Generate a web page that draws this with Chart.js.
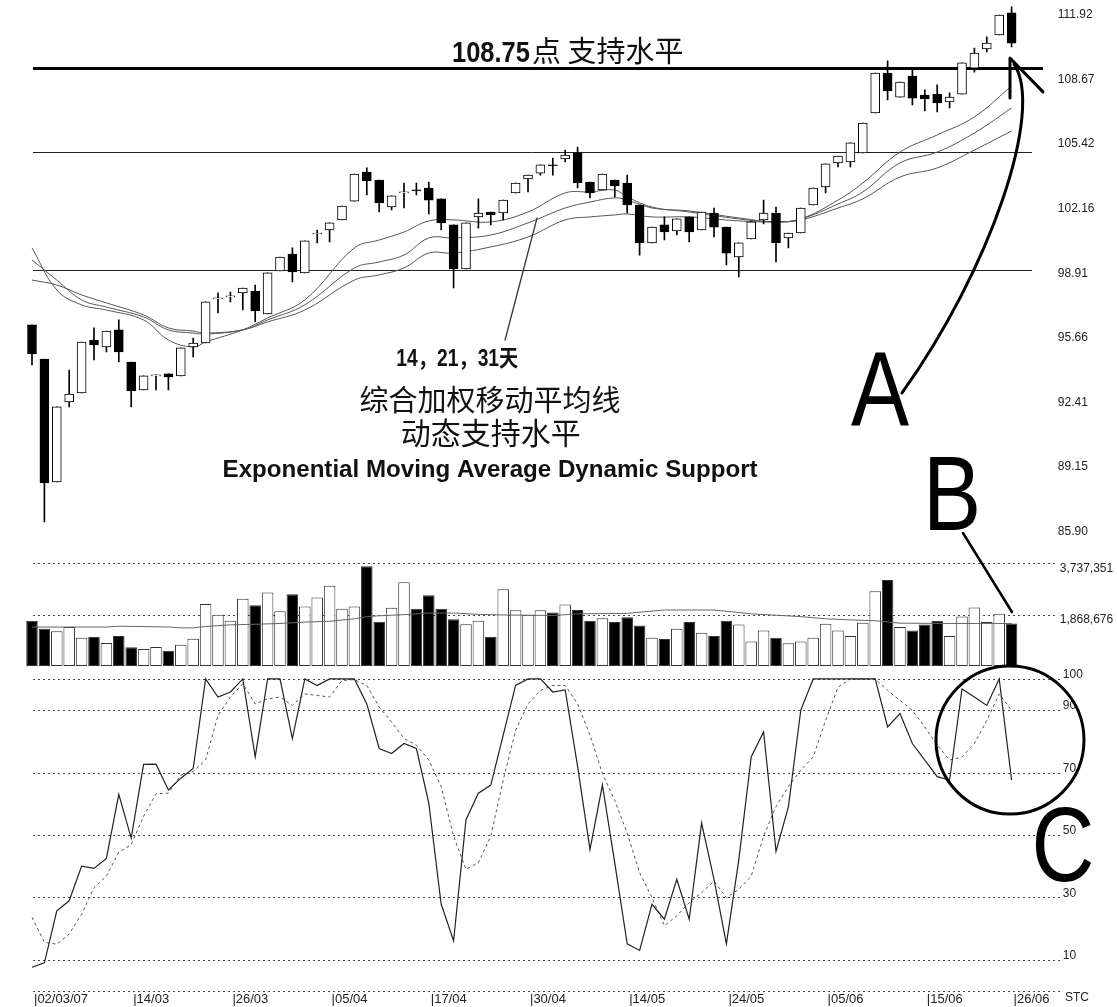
<!DOCTYPE html>
<html>
<head>
<meta charset="utf-8">
<script src="https://cdn.jsdelivr.net/npm/chart.js@4.4.0/dist/chart.umd.min.js"></script>
<style>
html, body { margin: 0; padding: 0; background: #fff; }
#wrap { position: relative; width: 1117px; height: 1007px; }
#wrap canvas { position: absolute; left: 0; top: 0; }
</style>
</head>
<body>
<div id="wrap">
  <canvas id="priceChart" width="1117" height="1007"></canvas>
  <canvas id="volChart" width="1117" height="1007"></canvas>
  <canvas id="stcChart" width="1117" height="1007"></canvas>
</div>
<script>
// ---- data ----
const tickAt = [0, 8, 16, 24, 32, 40, 48, 56, 64, 72, 79];
const tickText = ['|02/03/07', '|14/03', '|26/03', '|05/04', '|17/04', '|30/04', '|14/05', '|24/05', '|05/06', '|15/06', '|26/06'];

const opens = [96.31, 94.59, 88.40, 92.43, 92.88, 95.55, 95.20, 96.06, 94.44, 93.03,
  93.74, 93.84, 93.74, 95.20, 95.40, 97.62, 97.72, 97.92, 98.02, 96.86,
  99.03, 99.88, 98.93, 100.89, 101.09, 101.60, 102.55, 104.01, 103.61, 102.25,
  102.96, 103.11, 103.21, 102.66, 101.35, 99.13, 101.75, 102.00, 101.95, 102.96,
  103.66, 103.96, 104.37, 104.67, 104.97, 103.51, 103.11, 103.61, 103.46, 102.35,
  100.44, 101.35, 101.04, 101.75, 101.09, 101.95, 101.24, 99.73, 100.64, 101.60,
  101.95, 100.69, 100.94, 102.35, 103.26, 104.47, 104.52, 104.97, 106.99, 109.00,
  107.79, 108.85, 107.89, 107.94, 107.54, 107.94, 109.25, 110.21, 110.92, 112.03];
const highs = [96.31, 94.59, 92.18, 94.04, 95.45, 96.16, 96.00, 96.56, 94.44, 93.74,
  93.79, 93.84, 95.15, 95.65, 97.47, 97.92, 97.97, 98.17, 98.32, 98.93,
  99.73, 100.19, 100.54, 101.09, 101.45, 102.30, 103.91, 104.22, 103.61, 102.81,
  103.46, 103.46, 103.51, 102.66, 101.35, 101.45, 102.66, 102.00, 102.60, 103.46,
  103.86, 104.37, 104.72, 105.12, 105.27, 103.51, 103.91, 103.61, 103.86, 102.35,
  101.24, 101.75, 101.65, 101.75, 102.00, 102.20, 101.24, 100.44, 101.50, 102.60,
  102.25, 100.94, 102.20, 103.21, 104.42, 104.82, 105.48, 106.48, 109.00, 109.61,
  108.55, 109.15, 108.15, 108.40, 108.00, 109.51, 110.26, 110.82, 111.92, 112.33];
const lows = [94.29, 86.38, 88.40, 92.18, 92.88, 94.54, 94.95, 94.44, 92.18, 93.03,
  93.03, 93.03, 93.74, 94.70, 95.40, 96.91, 97.47, 97.06, 96.46, 96.86,
  99.03, 98.47, 98.93, 100.44, 100.49, 101.60, 102.55, 102.86, 102.00, 102.10,
  102.20, 102.86, 101.90, 101.09, 98.17, 99.13, 101.19, 101.35, 101.60, 102.96,
  103.01, 103.86, 103.86, 104.52, 103.21, 102.71, 103.11, 102.76, 101.95, 99.83,
  100.44, 100.59, 100.84, 100.49, 101.09, 100.74, 99.33, 98.73, 100.64, 101.40,
  99.48, 100.19, 100.94, 102.35, 102.96, 104.27, 104.27, 104.97, 106.99, 107.64,
  107.79, 107.39, 107.09, 107.04, 107.24, 107.94, 109.05, 110.06, 110.92, 110.31];
const closes = [94.85, 88.35, 92.18, 92.83, 95.45, 95.30, 96.00, 94.95, 92.98, 93.74,
  93.79, 93.69, 95.15, 95.40, 97.47, 97.67, 97.77, 98.17, 97.01, 98.93,
  99.73, 98.98, 100.54, 100.94, 101.45, 102.30, 103.91, 103.56, 102.45, 102.81,
  103.01, 103.06, 102.60, 101.45, 99.13, 101.45, 101.95, 101.85, 102.60, 103.46,
  103.86, 104.37, 104.32, 104.87, 103.46, 102.96, 103.91, 103.31, 102.35, 100.44,
  101.24, 100.99, 101.65, 100.99, 102.00, 101.24, 99.93, 100.44, 101.50, 101.95,
  100.44, 100.94, 102.20, 103.21, 104.42, 104.82, 105.48, 106.48, 109.00, 108.10,
  108.55, 107.74, 107.69, 107.49, 107.79, 109.51, 110.01, 110.51, 111.92, 110.51];

// exponential moving averages, read at these bars
const emaIdx = [0, 2, 4, 6, 9, 11, 13, 14, 17, 19, 22, 26, 28, 30, 32, 34, 37, 40, 43, 45, 47, 48, 50, 53, 57, 60, 62, 65, 67, 70, 73, 76, 79];
const ema14 = [100.19, 98.07, 97.32, 97.06, 96.56, 95.55, 95.20, 95.45, 96.06, 96.66, 97.57, 100.19, 100.59, 100.99, 101.55, 101.60, 101.50, 102.00, 102.96, 103.01, 103.11, 102.76, 102.25, 102.00, 101.65, 101.50, 101.65, 102.60, 103.46, 105.02, 105.88, 106.79, 108.35];
const ema21 = [99.58, 98.57, 97.57, 97.21, 96.71, 96.06, 95.90, 95.85, 96.06, 96.56, 97.32, 99.18, 99.48, 99.83, 100.69, 100.69, 100.84, 101.45, 102.20, 102.50, 102.71, 102.60, 102.20, 102.05, 101.70, 101.50, 101.65, 102.40, 103.01, 104.47, 105.02, 105.98, 107.24];
const ema31 = [98.57, 98.32, 97.82, 97.42, 96.81, 96.16, 96.00, 95.90, 96.06, 96.46, 97.06, 98.57, 98.83, 99.18, 99.93, 99.93, 100.24, 100.74, 101.60, 101.75, 101.85, 101.90, 101.75, 101.75, 101.55, 101.50, 101.60, 102.20, 102.66, 103.76, 104.22, 105.12, 106.08];

const supportLevels = [109.25, 105.02, 99.07];
const priceTicks = [111.92, 108.67, 105.42, 102.16, 98.91, 95.66, 92.41, 89.15, 85.90];

const volumes = [1650000, 1353000, 1263000, 1418000, 1031000, 1070000, 838000, 1095000, 683000, 619000,
  696000, 554000, 773000, 992000, 2255000, 1869000, 1650000, 2449000, 2217000, 2681000,
  1998000, 2616000, 2165000, 2500000, 2925000, 2088000, 2165000, 3634000, 1611000, 2126000,
  3054000, 2088000, 2578000, 2088000, 1701000, 1521000, 1650000, 1070000, 2797000, 2036000,
  1869000, 2036000, 1950000, 2237000, 2040000, 1645000, 1737000, 1606000, 1777000, 1474000,
  1026000, 987000, 1355000, 1606000, 1211000, 1092000, 1645000, 1513000, 895000, 1290000,
  1026000, 829000, 895000, 1026000, 1540000, 1290000, 1092000, 1579000, 2724000, 3132000,
  1421000, 1290000, 1513000, 1645000, 1092000, 1803000, 2132000, 1606000, 1908000, 1553000];
const volMaIdx = [0, 6, 7, 11, 12, 13, 14, 16, 18, 20, 22, 24, 26, 27, 28, 30, 32, 34, 36, 38, 40, 42, 44, 48, 51, 55, 57, 58, 60, 62, 64, 66, 68, 70, 74, 79];
const volMa = [1420000, 1420000, 1450000, 1420000, 1390000, 1390000, 1440000, 1500000, 1520000, 1550000,
  1600000, 1630000, 1720000, 1800000, 1830000, 1870000, 1930000, 1930000, 1880000, 1860000,
  1850000, 1840000, 1900000, 1920000, 2040000, 2040000, 1950000, 1900000, 1850000, 1800000,
  1720000, 1680000, 1650000, 1560000, 1550000, 1550000];
const volTicks = [3737351, 1868676];

const stcK = [7.6, 9.0, 25.7, 28.9, 40, 39.3, 42.5, 63, 49, 72.6,
  72.7, 64.4, 68.2, 71.3, 100, 94.2, 95.8, 100, 75, 100,
  100, 80.9, 100, 97.9, 100, 100, 100, 92, 77.7, 76.1,
  79.3, 77.7, 60.2, 27.8, 16.1, 54.9, 63.4, 66, 82, 97.9,
  100, 100, 95.8, 96.5, 72, 45.3, 66, 41, 15.1, 13,
  27.8, 23, 35.8, 23, 53.8, 35.8, 15.1, 42, 75, 83,
  44.8, 59, 90, 100, 100, 100, 100, 100, 100, 84.6,
  88.9, 79.3, 74, 68.7, 67.6, 96.8, 94.2, 91.5, 100, 67.6];
const stcD = [23.6, 15.6, 15, 18.3, 24.6, 33.1, 36.8, 44.5, 46.9, 56,
  63.2, 63.4, 69.2, 70.3, 74, 88.3, 94.2, 98.4, 92, 93.6,
  94.2, 91.5, 95.2, 94.7, 94.2, 99.5, 99.8, 97.9, 91, 86.2,
  80.9, 78.8, 74, 65.5, 49.6, 39, 41.1, 49.6, 67.6, 83.5,
  92, 96.3, 97.9, 97.9, 92, 82, 69.7, 61, 50.6, 37.9,
  29.9, 20.9, 24.1, 28.3, 31.5, 35.2, 29.9, 32.6, 36.8, 49.6,
  59.1, 65.5, 70.8, 75, 86.7, 97.3, 100, 100, 100, 96.3,
  93.1, 89.9, 84.6, 78.8, 74, 75, 79.3, 86.7, 95.2, 89.9];
const stcGrid = [100, 90, 70, 50, 30, 10, 0];
const stcTicks = [100, 90, 70, 50, 30, 10];

// ---- layout ----
const N = opens.length;
const categories = Array.from({ length: N }, (_, i) => {
  const k = tickAt.indexOf(i);
  return k < 0 ? '' : tickText[k];
});
// sparse readings placed on their bars, gaps bridged by the line
const onBars = (idx, vals) => {
  const out = new Array(N).fill(null);
  idx.forEach((b, k) => { out[b] = vals[k]; });
  return out;
};
const PLOT_L = 25.8, PLOT_R = 1017.8, AXIS_W = 1117 - PLOT_R;
const FONT = "'Liberation Sans', Arial, sans-serif";
const CJK = "'Noto Sans CJK SC', 'Noto Sans CJK JP', sans-serif";
Chart.defaults.font.family = FONT;

const candleFill = opens.map((o, i) => closes[i] < o ? '#000' : '#fff');

const refLines = {
  id: 'refLines',
  beforeDatasetsDraw(chart, args, opts) {
    const ctx = chart.ctx, y = chart.scales.y;
    (opts.lines || []).forEach(l => {
      let py = Math.round(y.getPixelForValue(l.value));
      if (l.width % 2) py += 0.5;
      ctx.save();
      ctx.strokeStyle = l.color || '#000';
      ctx.lineWidth = l.width;
      ctx.setLineDash(l.dash || []);
      ctx.beginPath();
      ctx.moveTo(l.x0, py);
      ctx.lineTo(l.x1, py);
      ctx.stroke();
      ctx.restore();
    });
  }
};

const notes = {
  id: 'notes',
  afterDraw(chart, args, opts) {
    const ctx = chart.ctx, sx = chart.scales.x, sy = chart.scales.y;
    const P = p => [sx.getPixelForValue(p[0]), sy.getPixelForValue(p[1])];
    (opts.items || []).forEach(it => {
      ctx.save();
      ctx.strokeStyle = ctx.fillStyle = it.color || '#000';
      ctx.lineWidth = it.width || 1;
      ctx.lineCap = 'round';
      ctx.lineJoin = 'round';
      if (it.type === 'text') {
        const [x, y] = P(it.at);
        ctx.font = it.font;
        ctx.textAlign = it.align || 'center';
        ctx.textBaseline = it.baseline || 'middle';
        let k = it.squeeze || 1;
        if (it.fit) k = it.fit / ctx.measureText(it.text).width;
        ctx.translate(x, y);
        ctx.scale(k, 1);
        ctx.fillText(it.text, 0, 0);
      } else if (it.type === 'line') {
        ctx.beginPath();
        it.pts.forEach((p, k) => { const q = P(p); k ? ctx.lineTo(q[0], q[1]) : ctx.moveTo(q[0], q[1]); });
        ctx.stroke();
      } else if (it.type === 'curve') {
        const q = it.pts.map(P);
        ctx.beginPath();
        ctx.moveTo(q[0][0], q[0][1]);
        ctx.bezierCurveTo(q[1][0], q[1][1], q[2][0], q[2][1], q[3][0], q[3][1]);
        ctx.stroke();
      } else if (it.type === 'ring') {
        const [x, y] = P(it.at);
        ctx.beginPath();
        ctx.arc(x, y, it.r, 0, Math.PI * 2);
        ctx.stroke();
      }
      ctx.restore();
    });
  }
};

function xAxis(show) {
  return {
    type: 'category', offset: true, display: show,
    grid: { display: false, drawTicks: false }, border: { display: false },
    ticks: { autoSkip: false, maxRotation: 0, minRotation: 0, align: 'start', labelOffset: 2, padding: 1, color: '#222', font: { size: 13 } },
    afterFit: s => { if (show) s.height = 16; s.paddingLeft = 0; s.paddingRight = 0; }
  };
}
function yAxis(min, max, ticks, fmt, pad, offset) {
  return {
    position: 'right', min, max,
    grid: { display: false, drawTicks: false }, border: { display: false },
    afterBuildTicks: s => { s.ticks = ticks.map(v => ({ value: v })); },
    afterFit: s => { s.width = AXIS_W; s.paddingTop = 0; s.paddingBottom = 0; },
    ticks: { callback: fmt, padding: pad, labelOffset: offset || 0, color: '#222', font: { size: 12 } }
  };
}
const base = {
  responsive: false, animation: false, devicePixelRatio: 1, events: [],
};

// ---- price / candles ----
const emaLine = (vals, label) => ({
  type: 'line', label, data: onBars(emaIdx, vals), spanGaps: true,
  borderColor: '#555', borderWidth: 1, pointRadius: 0, tension: 0.4, order: 3
});
new Chart(document.getElementById('priceChart'), {
  type: 'bar',
  data: {
    labels: categories,
    datasets: [
      emaLine(ema14, 'EMA 14'), emaLine(ema21, 'EMA 21'), emaLine(ema31, 'EMA 31'),
      { label: 'range', data: lows.map((l, i) => [l, highs[i]]), backgroundColor: '#000', barThickness: 1, grouped: false, order: 2 },
      { label: 'body', data: opens.map((o, i) => [o, closes[i]]), backgroundColor: candleFill, borderColor: '#000', borderWidth: 1, borderSkipped: false, barThickness: 9, grouped: false, order: 1 }
    ]
  },
  options: {
    ...base,
    layout: { padding: { top: 0, bottom: 459, left: PLOT_L, right: 0 } },
    scales: { x: xAxis(false), y: yAxis(85.07, 112.68, priceTicks, v => v.toFixed(2), 40) },
    plugins: {
      legend: { display: false }, tooltip: { enabled: false },
      refLines: { lines: [
        { value: supportLevels[0], width: 3, x0: 33, x1: 1043 },
        { value: supportLevels[1], width: 1, x0: 33, x1: 1032, color: '#222' },
        { value: supportLevels[2], width: 1, x0: 33, x1: 1032, color: '#222' }
      ] },
      notes: { items: [
        { type: 'text', at: [33.87, 109.56], text: '108.75', font: `bold 30px ${FONT}`, align: 'left', baseline: 'alphabetic', fit: 78, color: '#111' },
        { type: 'text', at: [40.32, 109.56], text: '点 支持水平', font: `29px ${CJK}`, align: 'left', baseline: 'alphabetic', color: '#111' },
        { type: 'text', at: [34.3, 94.54], text: '14，21，31天', font: `bold 23px 'Liberation Sans', ${CJK}`, fit: 122, color: '#111' },
        { type: 'text', at: [36.94, 92.53], text: '综合加权移动平均线', font: `29px ${CJK}`, color: '#111' },
        { type: 'text', at: [37.0, 90.87], text: '动态支持水平', font: `30px ${CJK}`, color: '#111' },
        { type: 'text', at: [36.94, 89.0], text: 'Exponential Moving Average Dynamic Support', font: `bold 24px ${FONT}`, fit: 535, color: '#111' },
        { type: 'line', pts: [[38.15, 95.55], [40.73, 101.70]], width: 1.3, color: '#333' },
        { type: 'text', at: [68.39, 91.27], text: 'A', font: `105px ${FONT}`, squeeze: 0.83, baseline: 'alphabetic' },
        { type: 'curve', pts: [[70.16, 92.88], [77.26, 99.08], [81.69, 107.14], [79.19, 109.46]], width: 3 },
        { type: 'line', pts: [[78.87, 107.74], [78.87, 109.76], [81.53, 108.05]], width: 3 }
      ] }
    }
  },
  plugins: [refLines, notes]
});

// ---- volume ----
new Chart(document.getElementById('volChart'), {
  type: 'bar',
  data: {
    labels: categories,
    datasets: [
      { type: 'line', label: 'avg', data: onBars(volMaIdx, volMa), spanGaps: true, borderColor: '#666', borderWidth: 1, pointRadius: 0, tension: 0, order: 0 },
      { label: 'volume', data: volumes, backgroundColor: candleFill, borderColor: '#333', borderWidth: 1, borderSkipped: false, barPercentage: 0.93, categoryPercentage: 1, order: 1 }
    ]
  },
  options: {
    ...base,
    layout: { padding: { top: 548, bottom: 341, left: PLOT_L, right: 0 } },
    scales: { x: xAxis(false), y: yAxis(0, 4300000, volTicks, v => v.toLocaleString('en-US'), 42, 5) },
    plugins: {
      legend: { display: false }, tooltip: { enabled: false },
      refLines: { lines: volTicks.map(v => ({ value: v, width: 1, x0: 33, x1: 1056, dash: [2, 3], color: '#444' })) },
      notes: { items: [
        { type: 'text', at: [74.19, 4956000], text: 'B', font: `105px ${FONT}`, squeeze: 0.83, baseline: 'alphabetic' },
        { type: 'line', pts: [[75.08, 4847000], [79.03, 1968000]], width: 2.5 }
      ] }
    }
  },
  plugins: [refLines, notes]
});

// ---- stochastic ----
new Chart(document.getElementById('stcChart'), {
  type: 'line',
  data: {
    labels: categories,
    datasets: [
      { label: '%K', data: stcK, borderColor: '#222', borderWidth: 1.2, pointRadius: 0, tension: 0 },
      { label: '%D', data: stcD, borderColor: '#555', borderWidth: 1, borderDash: [3, 3], pointRadius: 0, tension: 0 }
    ]
  },
  options: {
    ...base,
    layout: { padding: { top: 668, bottom: 0, left: PLOT_L, right: 0 } },
    scales: { x: xAxis(true), y: yAxis(0, 103.5, stcTicks, v => String(v), 45, -4) },
    plugins: {
      legend: { display: false }, tooltip: { enabled: false },
      refLines: { lines: stcGrid.map(v => ({ value: v, width: 1, x0: 33, x1: 1060, dash: [2, 3], color: '#444' })) },
      notes: { items: [
        { type: 'ring', at: [78.87, 80.4], r: 74, width: 3 },
        { type: 'text', at: [83.15, 35.4], text: 'C', font: `105px ${FONT}`, squeeze: 0.83, baseline: 'alphabetic' },
        { type: 'text', at: [83.3, -2.2], text: 'STC', font: `12px ${FONT}`, align: 'left', color: '#222' }
      ] }
    }
  },
  plugins: [refLines, notes]
});
</script>
</body>
</html>
